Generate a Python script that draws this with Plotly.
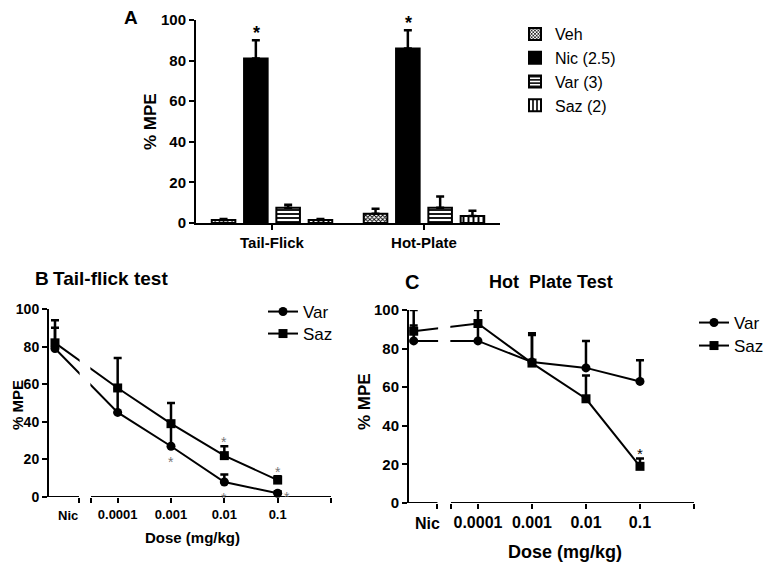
import numpy as np
import plotly.graph_objects as go

# ---------------- Panel A data ----------------
tests = ["Tail-Flick", "Hot-Plate"]
groups = ["Veh", "Nic (2.5)", "Var (3)", "Saz (2)"]
veh_mean = [1.5, 4.5]
veh_top = [2.0, 7.0]
nic_mean = [81.0, 86.0]
nic_top = [90.0, 95.0]
var_mean = [7.5, 7.5]
var_top = [9.0, 13.0]
saz_mean = [1.5, 3.5]
saz_top = [2.0, 6.0]
a_stars = [True, True]  # significance over Nic bars

# ---------------- Panel B data (tail-flick) ----------------
doses = [0.0001, 0.001, 0.01, 0.1]
dose_labels = ["0.0001", "0.001", "0.01", "0.1"]
b_var_nic, b_var_nic_top = 79.0, 90.0
b_var = [45.0, 27.0, 8.0, 2.0]
b_var_top = [57.0, 38.0, 12.0, 3.0]
b_saz_nic, b_saz_nic_top = 82.0, 94.0
b_saz = [58.0, 39.0, 22.0, 9.0]
b_saz_top = [74.0, 50.0, 27.0, 11.0]
b_var_star = [False, True, True, True]
b_saz_star = [False, False, True, True]

# ---------------- Panel C data (hot plate) ----------------
c_var_nic, c_var_nic_top = 84.0, 92.0
c_var = [84.0, 73.0, 70.0, 63.0]
c_var_top = [92.0, 87.0, 84.0, 74.0]
c_saz_nic, c_saz_nic_top = 89.0, 100.0
c_saz = [93.0, 72.5, 54.0, 19.0]
c_saz_top = [100.0, 88.0, 66.0, 23.0]
c_saz_star = [False, False, False, True]

FONT = "Liberation Sans, Arial, sans-serif"
OFF = 8              # page body margin of the html page
W, H = 775 - OFF, 562 - OFF

def px_x(p):
    return (p - OFF) / W

def px_y(p):
    return 1 - (p - OFF) / H

log_doses = list(np.log10(doses))

fig = go.Figure()

# ---------- Panel A bars ----------
bar_specs = [
    (groups[0], veh_mean, veh_top, dict(shape="x", size=3, solidity=0.5, fgcolor="black", bgcolor="white"), "white"),
    (groups[1], nic_mean, nic_top, None, "black"),
    (groups[2], var_mean, var_top, dict(shape="-", size=4, solidity=0.45, fgcolor="black", bgcolor="white"), "white"),
    (groups[3], saz_mean, saz_top, dict(shape="|", size=5, solidity=0.4, fgcolor="black", bgcolor="white"), "white"),
]
for name, mean, top, pat, col in bar_specs:
    m = dict(color=col, line=dict(color="black", width=2))
    if pat:
        m["pattern"] = pat
    fig.add_trace(go.Bar(
        x=tests, y=mean, name=name, marker=m,
        error_y=dict(type="data", symmetric=False,
                     array=list(np.array(top) - np.array(mean)),
                     arrayminus=[0] * len(mean),
                     color="black", thickness=2.5, width=4),
        xaxis="x", yaxis="y", legend="legend",
    ))

# ---------- Panels B / C (x axis in log10 dose units, broken for "Nic") ----------
panels = {
    "B": dict(xa="x2", ya="y2", lgs=("legend2", "legend4"), start=-5.2875, nic_end=-4.725, seg2=-4.5, nic_pos=-5.175,
              var_nic=b_var_nic, var_nic_top=b_var_nic_top, var=b_var, var_top=b_var_top,
              saz_nic=b_saz_nic, saz_nic_top=b_saz_nic_top, saz=b_saz, saz_top=b_saz_top),
    "C": dict(xa="x3", ya="y3", lgs=("legend3", "legend5"), start=-5.277, nic_end=-4.75, seg2=-4.5, nic_pos=-5.19,
              var_nic=c_var_nic, var_nic_top=c_var_nic_top, var=c_var, var_top=c_var_top,
              saz_nic=c_saz_nic, saz_nic_top=c_saz_nic_top, saz=c_saz, saz_top=c_saz_top),
}

for key, p in panels.items():
    xs = [p["nic_pos"]] + log_doses
    for (nm, sym, size, y0, top0, ys, tops), lg in zip([
        ("Var", "circle", 9, p["var_nic"], p["var_nic_top"], p["var"], p["var_top"]),
        ("Saz", "square", 9, p["saz_nic"], p["saz_nic_top"], p["saz"], p["saz_top"]),
    ], p["lgs"]):
        yv = [y0] + ys
        tv = [top0] + tops
        fig.add_trace(go.Scatter(
            x=xs, y=yv, name=nm, mode="lines+markers",
            marker=dict(symbol=sym, size=size, color="black"),
            line=dict(color="black", width=2),
            error_y=dict(type="data", symmetric=False,
                         array=list(np.array(tv) - np.array(yv)),
                         arrayminus=[0] * len(yv),
                         color="black", thickness=2.5, width=4),
            cliponaxis=False,
            xaxis=p["xa"], yaxis=p["ya"], legend=lg,
        ))

shapes = []
annotations = []

for key, p in panels.items():
    # mask the gap of the broken axis
    shapes.append(dict(type="rect", xref=p["xa"], yref=p["ya"],
                       x0=p["nic_end"] + 0.012, x1=p["seg2"] - 0.012, y0=0.5, y1=100,
                       fillcolor="white", line=dict(width=0), layer="above"))
    # broken x-axis line
    for a, b in [(p["start"], p["nic_end"]), (p["seg2"], 0)]:
        shapes.append(dict(type="line", xref=p["xa"], yref=p["ya"],
                           x0=a, x1=b, y0=0, y1=0,
                           line=dict(color="black", width=2), layer="above"))

# ---------- layout axes ----------
axis_common = dict(showgrid=False, zeroline=False, linecolor="black", linewidth=2,
                   ticks="outside", tickwidth=2, tickcolor="black", ticklen=5,
                   automargin=False)

def xticks(p):
    return [p["nic_end"], p["seg2"]] + log_doses + [0.0]

def leg(x, y, size):
    return dict(x=px_x(x), y=px_y(y), xanchor="left", yanchor="middle",
                font=dict(size=size), bgcolor="rgba(0,0,0,0)", tracegroupgap=0)

fig.update_layout(
    template="none",
    width=W, height=H,
    margin=dict(l=0, r=0, t=0, b=0),
    paper_bgcolor="white", plot_bgcolor="white",
    font=dict(family=FONT, color="black"),
    barmode="group", bargap=0.15, bargroupgap=0.27,
    showlegend=True,
    xaxis=dict(domain=[px_x(196), px_x(500)], anchor="y", showline=True,
               tickfont=dict(size=15, weight="bold"), **axis_common),
    yaxis=dict(domain=[px_y(223), px_y(20)], anchor="x", range=[0, 100], showline=True,
               tickvals=[0, 20, 40, 60, 80, 100],
               tickfont=dict(size=15, weight="bold"), **axis_common),
    xaxis2=dict(domain=[px_x(49), px_x(331)], anchor="y2",
                range=[panels["B"]["start"], 0], showline=False,
                tickvals=xticks(panels["B"]),
                ticktext=["", ""] + dose_labels + [""],
                tickfont=dict(size=13, weight="bold"), **axis_common),
    yaxis2=dict(domain=[px_y(497), px_y(309)], anchor="x2", range=[0, 100], showline=True,
                tickvals=[0, 20, 40, 60, 80, 100],
                tickfont=dict(size=14, weight="bold"), **axis_common),
    xaxis3=dict(domain=[px_x(409), px_x(694)], anchor="y3",
                range=[panels["C"]["start"], 0], showline=False,
                tickvals=xticks(panels["C"]),
                ticktext=["", ""] + dose_labels + [""],
                tickfont=dict(size=16, weight="bold"), **axis_common),
    yaxis3=dict(domain=[px_y(503), px_y(310)], anchor="x3", range=[0, 100], showline=True,
                tickvals=[0, 20, 40, 60, 80, 100],
                tickfont=dict(size=15, weight="bold"), **axis_common),
    legend=dict(x=px_x(515), y=px_y(17), xanchor="left", yanchor="top",
                font=dict(size=16), bgcolor="rgba(0,0,0,0)", tracegroupgap=0),
    legend2=leg(263, 312, 17),
    legend4=leg(263, 334, 17),
    legend3=leg(694, 323, 17),
    legend5=leg(694, 346, 17),
)

# ---------- annotations ----------
def ann(text, x, y, size, bold=True, xanchor="center", yanchor="middle", angle=0, **kw):
    d = dict(text=text, x=x, y=y, xref="paper", yref="paper", showarrow=False,
             xanchor=xanchor, yanchor=yanchor, textangle=angle,
             font=dict(family=FONT, size=size, color="black", weight="bold" if bold else "normal"))
    d.update(kw)
    annotations.append(d)

ann("A", px_x(131), px_y(17), 19)
ann("% MPE", px_x(150), px_y(122), 17, angle=-90)
ann("B", px_x(33), px_y(278), 19, xanchor="left")
ann("Tail-flick test", px_x(51), px_y(278), 19, xanchor="left")
ann("% MPE", px_x(17), px_y(405), 15, angle=-90)
ann("Dose (mg/kg)", px_x(192), px_y(537), 15)
ann("C", px_x(403), px_y(282), 20, xanchor="left")
ann("Hot\u00a0 Plate Test", px_x(487), px_y(282), 18, xanchor="left")
ann("% MPE", px_x(364), px_y(402), 17, angle=-90)
ann("Dose (mg/kg)", px_x(565), px_y(552), 18)

# Nic labels on broken axes
for key, p, size, shift in [("B", panels["B"], 13, -18), ("C", panels["C"], 16, -20)]:
    annotations.append(dict(text="Nic", xref=p["xa"], yref=p["ya"],
                            x=(p["start"] + p["nic_end"]) / 2 + 0.07, y=0, yshift=shift,
                            showarrow=False, xanchor="center", yanchor="middle",
                            font=dict(family=FONT, size=size, color="black", weight="bold")))

# Panel A stars over Nic bars
for t, top, s in zip(tests, nic_top, a_stars):
    if s:
        annotations.append(dict(text="*", xref="x", yref="y", x=t, y=top, xshift=-16, yshift=-5,
                                showarrow=False, yanchor="bottom",
                                font=dict(family=FONT, size=18, color="black", weight="bold")))

# Panel B stars (grey)
star_grey = "#777777"
for d, y, s in zip(log_doses, b_var, b_var_star):
    if s:
        if d == log_doses[-1]:
            annotations.append(dict(text="*", xref="x2", yref="y2", x=d, y=y,
                                    xshift=9, yshift=-4, showarrow=False,
                                    font=dict(family=FONT, size=14, color=star_grey)))
        else:
            annotations.append(dict(text="*", xref="x2", yref="y2", x=d, y=y,
                                    yshift=-16, showarrow=False,
                                    font=dict(family=FONT, size=14, color=star_grey)))
for d, top, s in zip(log_doses, b_saz_top, b_saz_star):
    if s:
        annotations.append(dict(text="*", xref="x2", yref="y2", x=d, y=top,
                                yshift=4, showarrow=False,
                                font=dict(family=FONT, size=14, color=star_grey)))
# Panel C star
for d, top, s in zip(log_doses, c_saz_top, c_saz_star):
    if s:
        annotations.append(dict(text="*", xref="x3", yref="y3", x=d, y=top,
                                yshift=5, showarrow=False,
                                font=dict(family=FONT, size=15, color="black")))

fig.update_layout(shapes=shapes, annotations=annotations)
fig.write_html("out.html")
